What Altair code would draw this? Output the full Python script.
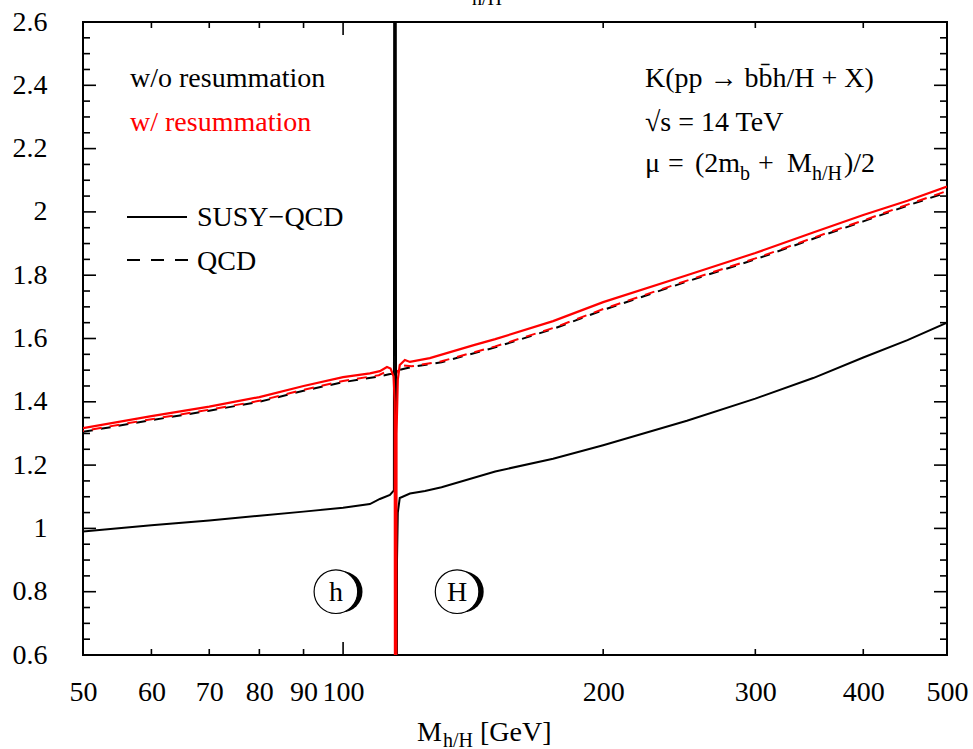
import altair as alt
import pandas as pd

# ---------------- data ----------------
# SUSY-QCD, without resummation (black solid): h branch runs into the pole, H branch comes out of it
bs_m = [50, 60, 70, 80, 90, 100, 107.4, 110.3, 113.3, 114.5, 114.6, 115.05, 115.3, 115.45, 115.7, 116.3,
        119.5, 124.4, 130, 150, 175, 200, 250, 300, 350, 400, 450, 500]
bs_k = [0.99, 1.01, 1.025, 1.04, 1.053, 1.065, 1.077, 1.093, 1.106, 1.12, 3.0, 3.0, -1.0, 0.9, 1.05, 1.096,
        1.11, 1.118, 1.13, 1.18, 1.22, 1.263, 1.34, 1.41, 1.475, 1.54, 1.595, 1.65]

# SUSY-QCD, with resummation (red solid)
rs_m = [50, 60, 70, 80, 90, 100, 107.4, 110.3, 112.4, 113.5, 114.4, 114.75, 114.9, 115.15, 115.3, 115.7,
        116.3, 117.9, 119.5, 126, 142, 150, 175, 200, 250, 300, 350, 400, 450, 500]
rs_k = [1.317, 1.355, 1.385, 1.415, 1.45, 1.478, 1.49, 1.497, 1.51, 1.505, 1.48, 1.40, -0.5, -0.5, 1.3, 1.47,
        1.516, 1.532, 1.526, 1.538, 1.58, 1.598, 1.655, 1.715, 1.80, 1.87, 1.935, 1.99, 2.035, 2.08]

# QCD, without resummation (black dashed)
bd_m = [50, 60, 70, 80, 90, 100, 110, 113, 115, 116, 118, 120, 130, 150, 175, 200, 250, 300, 350, 400, 450, 500]
bd_k = [1.305, 1.342, 1.372, 1.40, 1.435, 1.462, 1.48, 1.487, 1.49, 1.50, 1.505, 1.51, 1.525, 1.572, 1.63,
        1.69, 1.78, 1.85, 1.915, 1.97, 2.02, 2.062]

# QCD, with resummation (red dashed)
rd_m = [50, 60, 70, 80, 90, 100, 110, 112.4, 114, 115, 116, 117.5, 120, 130, 150, 175, 200, 250, 300, 350,
        400, 450, 500]
rd_k = [1.308, 1.345, 1.375, 1.403, 1.438, 1.466, 1.484, 1.497, 1.49, 1.485, 1.505, 1.515, 1.512, 1.528,
        1.575, 1.633, 1.693, 1.783, 1.853, 1.918, 1.973, 2.023, 2.066]

# axis ticks and labels
x_labels = [50, 60, 70, 80, 90, 100, 200, 300, 400, 500]
x_minor = [60, 70, 80, 90, 200, 300, 400]
x_major = [100]
y_labels = [0.6, 0.8, 1.0, 1.2, 1.4, 1.6, 1.8, 2.0, 2.2, 2.4, 2.6]
y_minor = [round(0.6 + 0.05 * i, 2) for i in range(41) if i % 4 != 0]

# annotation positions (data coordinates)
circ_m = [98.1, 135.5]
circ_k = [0.80, 0.80]
circ_t = ["h", "H"]

FONT = "Liberation Serif"
FS = 28
SUB = 20
W, H = 864, 633

xs = alt.Scale(type="log", domain=[50, 500], nice=False)
ys = alt.Scale(domain=[0.6, 2.6], nice=False, zero=False)
xaxis = alt.Axis(values=x_labels, labelFont=FONT, labelFontSize=FS, labelColor="black", ticks=False,
                 domain=False, grid=False, labelPadding=23, title=None, labelFlush=False,
                 labelOverlap=False, format="d")
yaxis = alt.Axis(values=y_labels, labelFont=FONT, labelFontSize=FS, labelColor="black", ticks=False,
                 domain=False, grid=False, labelPadding=36, title=None, labelFlush=False,
                 labelOverlap=False,
                 labelExpr="datum.value == 1 ? '1' : datum.value == 2 ? '2' : format(datum.value, '.1f')")
X = alt.X("m:Q", scale=xs, axis=xaxis)
Y = alt.Y("k:Q", scale=ys, axis=yaxis)


def frame(ms, ks):
    return pd.DataFrame({"m": ms, "k": ks, "i": list(range(len(ms)))})


def line(df, color, dash=None, offset=None, width=2):
    kw = dict(color=color, strokeWidth=width, clip=True)
    if dash is not None:
        kw["strokeDash"] = dash
    if offset is not None:
        kw["strokeDashOffset"] = offset
    return alt.Chart(df).mark_line(**kw).encode(x=X, y=Y, order="i:Q")


bd = line(frame(bd_m, bd_k), "black", dash=[10, 8])
rd = line(frame(rd_m, rd_k), "#ff0000", dash=[10, 8], offset=9)
bs = line(frame(bs_m, bs_k), "black")
rs = line(frame(rs_m, rs_k), "#ff0000", width=2.2)


def tick_rules(vals, channel, p1, p2):
    df = pd.DataFrame({"m" if channel == "x" else "k": vals})
    ch = alt.Chart(df).mark_rule(color="black", strokeWidth=1.6)
    if channel == "x":
        return ch.encode(x=X, y=alt.value(p1), y2=alt.value(p2))
    return ch.encode(y=Y, x=alt.value(p1), x2=alt.value(p2))


ticks = [
    tick_rules(x_minor, "x", H, H - 6), tick_rules(x_minor, "x", 0, 6),
    tick_rules(x_major, "x", H, H - 13), tick_rules(x_major, "x", 0, 13),
    tick_rules(y_minor, "y", 0, 7), tick_rules(y_minor, "y", W, W - 7),
    tick_rules(y_labels, "y", 0, 13), tick_rules(y_labels, "y", W, W - 13),
]

circ_df = pd.DataFrame({"m": circ_m, "k": circ_k, "t": circ_t})
shadow = alt.Chart(circ_df).mark_point(shape="circle", filled=True, color="black", size=1700,
                                       opacity=1, xOffset=6).encode(x=X, y=Y)
disk = alt.Chart(circ_df).mark_point(shape="circle", filled=True, fill="white", stroke="black",
                                     strokeWidth=1.2, size=1900, opacity=1, fillOpacity=1).encode(x=X, y=Y)
circ_txt = alt.Chart(circ_df).mark_text(font=FONT, fontSize=FS, color="black", baseline="middle",
                                        align="center", dy=1).encode(x=X, y=Y, text="t:N")


def label(text, px, py, size=FS, color="black", align="left"):
    return alt.Chart(pd.DataFrame({"t": [text]})).mark_text(
        font=FONT, fontSize=size, color=color, align=align, baseline="alphabetic"
    ).encode(x=alt.value(px - 83), y=alt.value(py - 22), text="t:N")


texts = [
    label("w/o resummation", 130, 87),
    label("w/ resummation", 130, 131, color="#ff0000"),
    label("SUSY\u2212QCD", 197, 226),
    label("QCD", 197, 270),
    label("K(pp \u2192 bb\u0304h/H + X)", 645, 87),
    label("\u221as = 14 TeV", 645, 131),
    label("\u03bc", 645, 172),
    label("=", 668, 172),
    label("(2m", 695, 172),
    label("b", 740, 180, size=SUB),
    label("+", 758, 172),
    label("M", 787, 172),
    label("h/H", 812, 180, size=SUB),
    label(")/2", 844, 172),
    label("M", 417, 741),
    label("h/H", 443, 747, size=SUB),
    label("[GeV]", 480, 741),
    label("h/H", 472, 5, size=SUB),
]

leg_solid = alt.Chart(pd.DataFrame({"a": [0]})).mark_rule(color="black", strokeWidth=2).encode(
    x=alt.value(127 - 83), x2=alt.value(187 - 83), y=alt.value(217 - 22))
leg_dash = alt.Chart(pd.DataFrame({"a": [0]})).mark_rule(color="black", strokeWidth=2,
                                                         strokeDash=[13, 11]).encode(
    x=alt.value(127 - 83), x2=alt.value(188 - 83), y=alt.value(260 - 22))

chart = alt.layer(
    bd, rd, bs, rs, *ticks, shadow, disk, circ_txt, *texts, leg_solid, leg_dash
).properties(
    width=W, height=H,
    padding={"left": 83, "top": 22, "right": 973 - 83 - W, "bottom": 749 - 22 - H},
    autosize=alt.AutoSizeParams(type="none"),
    background="white",
).configure_view(stroke="black", strokeWidth=2)

chart.save("out.html", embed_options={"renderer": "svg", "actions": False})
